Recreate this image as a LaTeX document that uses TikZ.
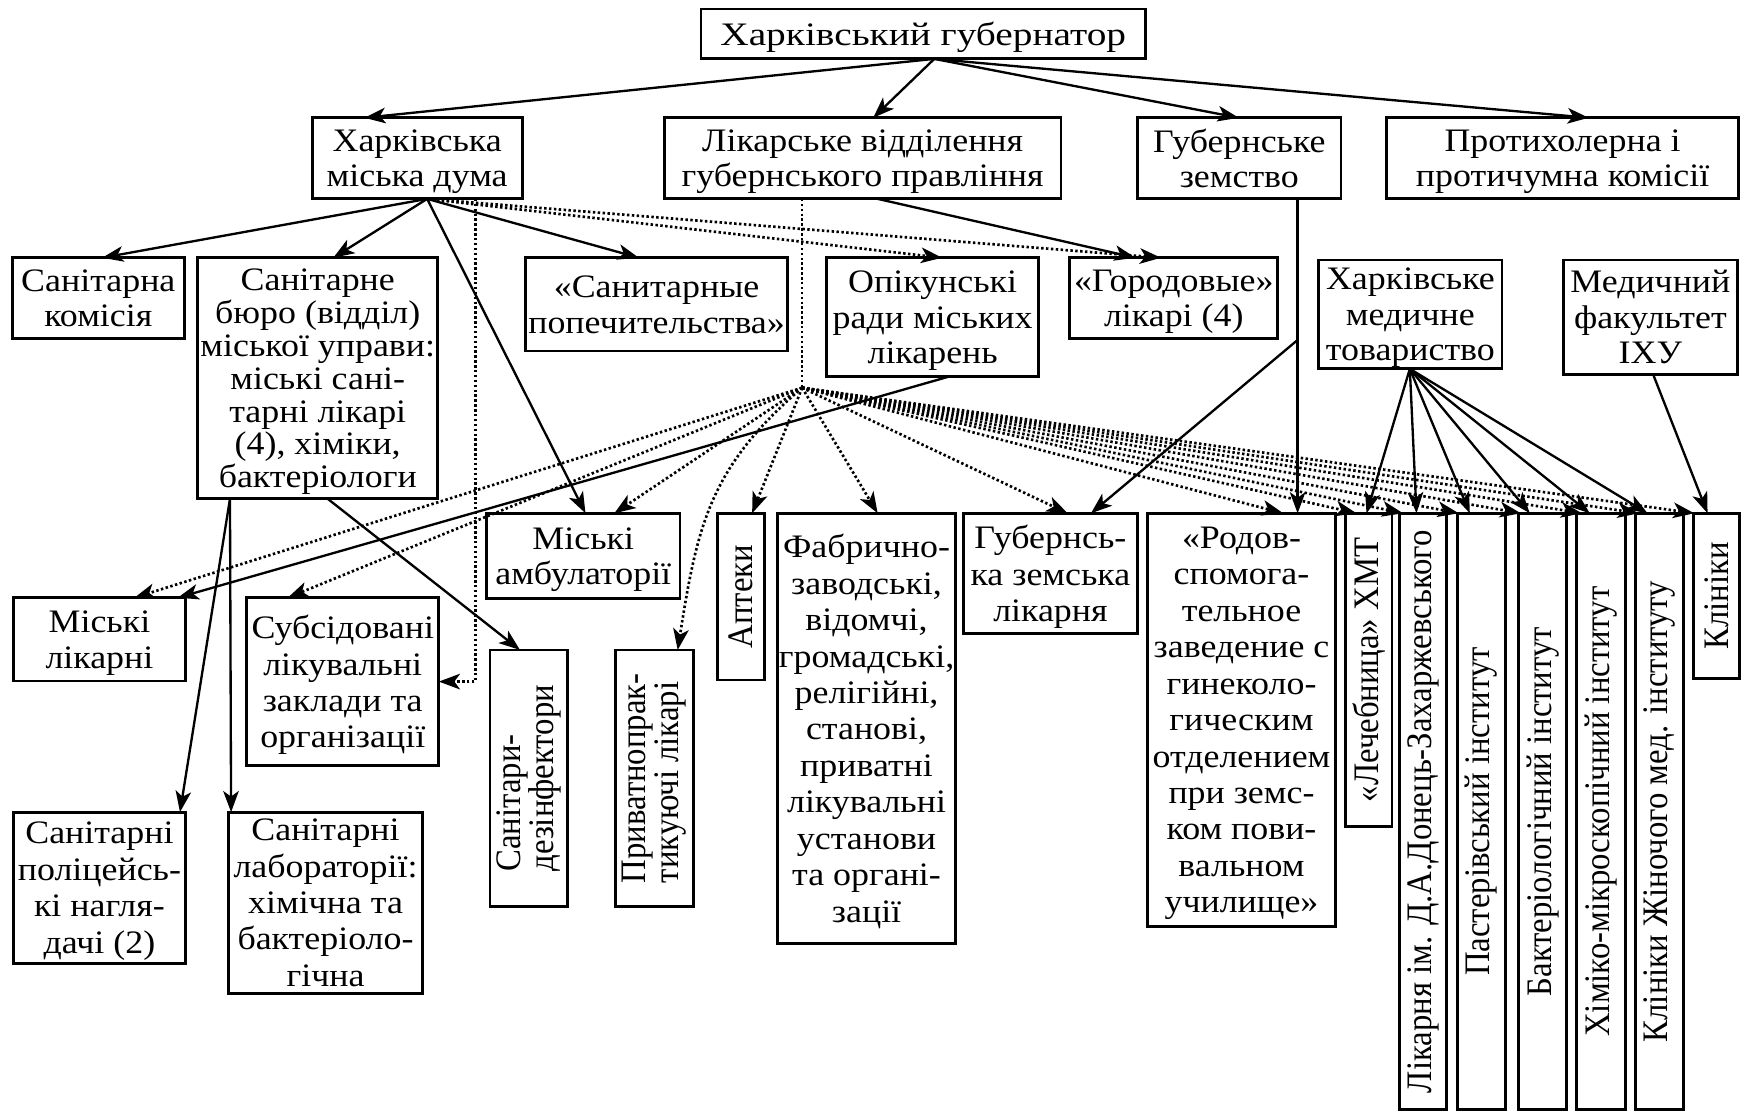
\documentclass[tikz,border=0pt]{standalone}
\usepackage{fontspec}
\usepackage{graphicx}
\setmainfont[FakeStretch=1.095]{Liberation Serif}
\newfontfamily\rotfont[FakeStretch=0.913]{Liberation Serif}
\newfontfamily\govfont[FakeStretch=1.2]{Liberation Serif}
\usetikzlibrary{arrows.meta}
\newcommand\bx[7][]{\node[box,minimum width={#5-#3},minimum height={#6-#4},#1] (#2) at ({(#3+#5)/2},{(#4+#6)/2}) {#7};}
\newcommand\rone[1]{\rotatebox{90}{\rotfont\fontsize{32.3}{28}\selectfont #1}}
\newcommand\rtwo[2]{\rotatebox{90}{\rotfont\fontsize{32.3}{28}\selectfont\vbox{\baselineskip=28pt\hbox{#1}\hbox{#2}}}}
\begin{document}
\begin{tikzpicture}[x=1pt,y=-1pt,
  box/.style={draw,line width=2.5pt,inner sep=0pt,outer sep=0pt,align=center,text depth=0pt,font={\fontsize{29.5}{32.8}\selectfont}},
  arr/.style={line width=2.1pt,-{Stealth[length=19pt,width=14pt,inset=5pt]}},
  dotline/.style={line width=2.4pt,dash pattern=on 2.2pt off 2.2pt},
  dot/.style={arr,dotline}]
\useasboundingbox (0,0) rectangle (1568,1002);
% boxes
\bx[font={\govfont\fontsize{29.5}{32.8}\selectfont}]{gov}{631}{8}{1031}{53}{Харківський губернатор}
\bx[font={\fontsize{29.5}{32}\selectfont}]{duma}{281}{106}{470}{179}{Харківська\\міська дума}
\bx[font={\fontsize{29.5}{32}\selectfont}]{likar}{598}{106}{955}{179}{Лікарське відділення\\губернського правління}
\bx[font={\fontsize{29.5}{32}\selectfont}]{zem}{1024}{106}{1207}{179}{Губернське\\земство}
\bx[font={\fontsize{29.5}{32}\selectfont}]{proty}{1248}{106}{1565}{179}{Протихолерна і\\протичумна комісії}
\bx[font={\fontsize{29.5}{32}\selectfont}]{sankom}{11}{232}{166}{305}{Санітарна\\комісія}
\bx[font={\fontsize{29.5}{29.6}\selectfont}]{sanbur}{178}{232}{394}{449}{Санітарне\\бюро (відділ)\\міської управи:\\міські сані-\\тарні лікарі\\(4), хіміки,\\бактеріологи}
\bx{sanpop}{473}{232}{709}{316}{«Санитарные\\попечительства»}
\bx[font={\fontsize{29.5}{32}\selectfont}]{opik}{744}{232}{935}{339}{Опікунські\\ради міських\\лікарень}
\bx[font={\fontsize{29.5}{32}\selectfont}]{gorod}{963}{232}{1150}{305}{«Городовые»\\лікарі (4)}
\bx[font={\fontsize{29.5}{32}\selectfont}]{hmt}{1187}{234}{1352}{332}{Харківське\\медичне\\товариство}
\bx[font={\fontsize{29.5}{32}\selectfont}]{medfak}{1407}{234}{1564}{337}{Медичний\\факультет\\ІХУ}
\bx[font={\fontsize{29.5}{31}\selectfont}]{ambul}{438}{462}{612}{539}{Міські\\амбулаторії}
\bx{apt}{646}{462}{688}{612}{\rone{Аптеки}}
\bx{fabr}{700}{462}{860}{849}{Фабрично-\\заводські,\\відомчі,\\громадські,\\релігійні,\\станові,\\приватні\\лікувальні\\установи\\та органі-\\зації}
\bx{gublik}{867}{462}{1024}{570}{Губернсь-\\ка земська\\лікарня}
\bx{rodov}{1033}{462}{1202}{834}{«Родов-\\спомога-\\тельное\\заведение с\\гинеколо-\\гическим\\отделением\\при земс-\\ком пови-\\вальном\\училище»}
\bx{lech}{1211}{462}{1253}{744}{\rone{«Лечебница» ХМТ}}
\bx{donec}{1260}{462}{1302}{999}{\rone{Лікарня ім. Д.А.Донець-Захаржевського}}
\bx{paster}{1312}{462}{1355}{999}{\rone{Пастерівський інститут}}
\bx{bakt}{1367}{462}{1410}{999}{\rone{Бактеріологічний інститут}}
\bx{himik}{1419}{462}{1463}{999}{\rone{Хіміко-мікроскопічний інститут}}
\bx{klinzh}{1472}{462}{1515}{999}{\rone{Клініки Жіночого мед. інституту}}
\bx{klin}{1524}{462}{1566}{611}{\rone{Клініки}}
\bx[font={\fontsize{29.5}{32}\selectfont}]{mlik}{12}{538}{167}{613}{Міські\\лікарні}
\bx{subs}{222}{538}{395}{689}{Субсідовані\\лікувальні\\заклади та\\організації}
\bx{dezinf}{441}{585}{511}{816}{\rtwo{Санітари-}{дезінфектори}}
\bx{privat}{554}{585}{624}{816}{\rtwo{Приватнопрак-}{тикуючі лікарі}}
\bx{polic}{12}{731}{167}{867}{Санітарні\\поліцейсь-\\кі нагля-\\дачі (2)}
\bx{labor}{206}{731}{380}{894}{Санітарні\\лабораторії:\\хімічна та\\бактеріоло-\\гічна}
% hubs
\coordinate (hub) at (722,349);
\coordinate (zemj) at (1168,306);
% governor
\draw[arr] ([xshift=10]gov.south) -- ([xshift=47]duma.north west);
\draw[arr] ([xshift=10]gov.south) -- ([xshift=188]likar.north west);
\draw[arr] ([xshift=10]gov.south) -- ([xshift=91]zem.north west);
\draw[arr] ([xshift=10]gov.south) -- ([xshift=182]proty.north west);
% duma
\draw[arr] ([xshift=9]duma.south) -- ([xshift=81]sankom.north west);
\draw[arr] ([xshift=9]duma.south) -- ([xshift=122]sanbur.north west);
\draw[arr] ([xshift=9]duma.south) -- ([xshift=102]sanpop.north west);
\draw[arr] ([xshift=9]duma.south) -- ([xshift=89]ambul.north west);
\draw[dot] ([xshift=9]duma.south) -- ([xshift=104]opik.north west);
\draw[dot] ([xshift=9]duma.south) -- ([xshift=82]gorod.north west);
\draw[dot] ([xshift=147]duma.south west) |- (subs.east);
% likarske viddilennia
\draw[arr] ([xshift=192]likar.south west) -- ([xshift=59]gorod.north west);
\draw[dotline] ([xshift=124]likar.south west) -- (hub);
\draw[dot] (hub) -- ([xshift=109]mlik.north west);
\draw[dot] (hub) -- ([xshift=37]subs.north west);
\draw[dot] (hub) -- ([xshift=115]ambul.north west);
\draw[dot] (hub) .. controls (640,420) and (628,470) .. ([xshift=56]privat.north west);
\draw[dot] (hub) -- ([xshift=31]apt.north west);
\draw[dot] (hub) -- ([xshift=90]fabr.north west);
\draw[dot] (hub) -- ([xshift=94]gublik.north west);
\draw[dot] (hub) -- ([xshift=122]rodov.north west);
\draw[dot] (hub) -- ([xshift=10]lech.north west);
\draw[dot] (hub) -- ([xshift=3]donec.north west);
\draw[dot] (hub) -- ([xshift=1]paster.north west);
\draw[dot] (hub) -- ([xshift=2]bakt.north west);
\draw[dot] (hub) -- ([xshift=5]himik.north west);
\draw[dot] (hub) -- ([xshift=3]klinzh.north west);
\draw[dot] (hub) -- ([xshift=1]klin.north west);
% opikunski rady
\draw[arr] ([xshift=110]opik.south west) -- ([xshift=148]mlik.north west);
% zemstvo
\draw[arr] ([xshift=144]zem.south west) -- ([xshift=135]rodov.north west);
\draw[arr] (zemj) -- ([xshift=115]gublik.north west);
% sanitary bureau
\draw[arr] ([xshift=29]sanbur.south west) -- ([xshift=150]polic.north west);
\draw[arr] ([xshift=29]sanbur.south west) -- ([xshift=2]labor.north west);
\draw[arr] ([xshift=117]sanbur.south west) -- ([xshift=27]dezinf.north west);
% HMT
\draw[arr] ([xshift=82]hmt.south west) -- ([xshift=19]lech.north west);
\draw[arr] ([xshift=82]hmt.south west) -- ([xshift=15]donec.north west);
\draw[arr] ([xshift=82]hmt.south west) -- ([xshift=11]paster.north west);
\draw[arr] ([xshift=82]hmt.south west) -- ([xshift=10]bakt.north west);
\draw[arr] ([xshift=82]hmt.south west) -- ([xshift=12]himik.north west);
\draw[arr] ([xshift=82]hmt.south west) -- ([xshift=11]klinzh.north west);
% medical faculty
\draw[arr] ([xshift=81]medfak.south west) -- ([xshift=13]klin.north west);
\end{tikzpicture}
\end{document}
